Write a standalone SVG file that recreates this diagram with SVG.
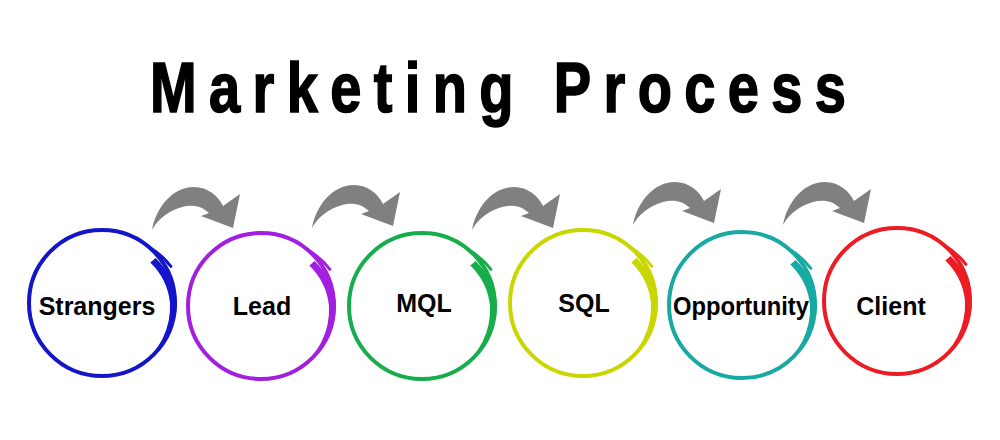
<svg xmlns="http://www.w3.org/2000/svg" width="1000" height="440" viewBox="0 0 1000 440">
  <style>
    .ring { fill: none; stroke-width: 4; }
    .thick { stroke: none; }
    .tail { fill: none; stroke-width: 3; stroke-linecap: round; }
    .label { font-family: "Liberation Sans", Arial, sans-serif; font-weight: bold; font-size: 25px; fill: #000; text-anchor: middle; }
    .title { font-family: "Liberation Sans", Arial, sans-serif; font-weight: bold; font-size: 70px; fill: #000; stroke: #000; stroke-width: 1.6; }
    .arrow { fill: #808080; }
  </style>
  <defs>
    <path id="arrowShape" d="M0,0 C4,-22 20,-43 42,-43 C56,-43 66,-34 71,-24 L88,-36 L81,-2 L49,-14 L57,-17 C50,-24 40,-26 30,-23 C16,-19 6,-11 0,0 Z"/>
    <path id="thickShape" d="M48.3,-40.5 L53.6,-45 A72,72 0 0 1 75,0 A75,75 0 0 1 36.5,63.2 A72,72 0 0 0 68,0 A66,66 0 0 0 48.3,-40.5 Z"/>
    <g id="ringShape">
      <circle class="ring" cx="0" cy="0" r="73"/>
      <path class="tail" d="M46.9,-55.9 A75,75 0 0 1 68.9,-36.6"/>
    </g>
  </defs>
  <rect width="1000" height="440" fill="#fff"/>

  <text class="title" x="187.5" y="112" transform="scale(0.8,1)" textLength="870" lengthAdjust="spacing">Marketing Process</text>

  <g id="connectors">
    <use href="#arrowShape" class="arrow" transform="translate(152,230)"/>
    <use href="#arrowShape" class="arrow" transform="translate(312,228)"/>
    <use href="#arrowShape" class="arrow" transform="translate(472,230)"/>
    <use href="#arrowShape" class="arrow" transform="translate(633,225)"/>
    <use href="#arrowShape" class="arrow" transform="translate(783,225)"/>
  </g>

  <g id="node-strangers" transform="translate(102,303)" stroke="#1414c8" fill="#1414c8">
    <use href="#ringShape"/>
    <use href="#thickShape" class="thick"/>
    <text class="label" x="-5" y="12" stroke="none">Strangers</text>
  </g>
  <g id="node-lead" transform="translate(261,306)" stroke="#a31fe0" fill="#a31fe0">
    <use href="#ringShape"/>
    <use href="#thickShape" class="thick"/>
    <text class="label" x="1" y="9" stroke="none">Lead</text>
  </g>
  <g id="node-mql" transform="translate(422,306)" stroke="#17ad4c" fill="#17ad4c">
    <use href="#ringShape"/>
    <use href="#thickShape" class="thick"/>
    <text class="label" x="2" y="6" stroke="none">MQL</text>
  </g>
  <g id="node-sql" transform="translate(583,303)" stroke="#c9d600" fill="#c9d600">
    <use href="#ringShape"/>
    <use href="#thickShape" class="thick"/>
    <text class="label" x="1" y="9" stroke="none">SQL</text>
  </g>
  <g id="node-opportunity" transform="translate(742,305)" stroke="#19a9a3" fill="#19a9a3">
    <use href="#ringShape"/>
    <use href="#thickShape" class="thick"/>
    <text class="label" x="-1" y="10" stroke="none" textLength="136" lengthAdjust="spacingAndGlyphs">Opportunity</text>
  </g>
  <g id="node-client" transform="translate(897,301)" stroke="#ec1c24" fill="#ec1c24">
    <use href="#ringShape"/>
    <use href="#thickShape" class="thick"/>
    <text class="label" x="-6" y="14" stroke="none">Client</text>
  </g>
</svg>
